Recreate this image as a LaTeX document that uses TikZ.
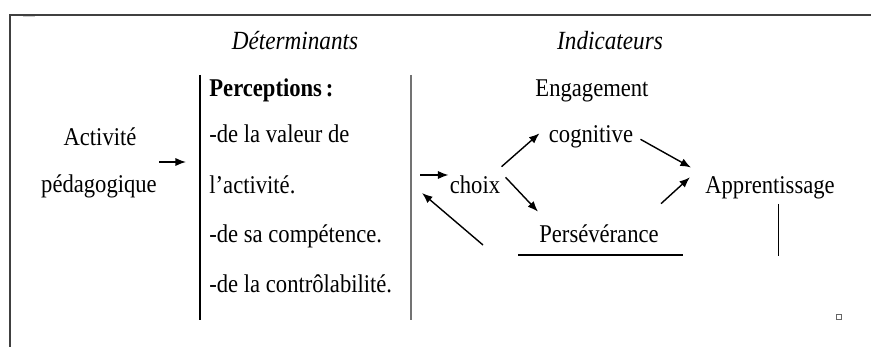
\documentclass[tikz,border=0pt]{standalone}
\usepackage{fontspec}
\setmainfont{Liberation Serif}
\usetikzlibrary{arrows.meta}

\newcommand{\taille}{\fontsize{19.3}{23}\selectfont}
\tikzset{
  texte/.style={anchor=base, inner sep=1pt, yscale=1.13, font=\taille},
  ligne/.style={texte, anchor=base west},
  titre/.style={texte, font=\fontsize{19.8}{23}\selectfont\itshape},
  fleche/.style={-{Latex[length=9pt,width=7pt]}, line width=1.2pt},
}

\begin{document}
\begin{tikzpicture}[x=0.3mm, y=-0.3mm]
  \useasboundingbox (0,0) rectangle (871,347);
  % cadre
  \draw[line width=1.5pt, black!75] (10,347) -- (10,15) -- (871,15);
  \draw[line width=1.2pt, black!20] (23,16.5) -- (35,16.5);
  \draw[line width=0.5pt, black!60] (836,314) rectangle (841,319);

  % titres
  \node[titre] (determinants) at (295,50) {Déterminants};
  \node[titre] (indicateurs) at (610,50) {Indicateurs};

  % separations
  \draw[line width=1.2pt] (200,75) -- (200,320);
  \draw[line width=1.2pt, black!55] (411,75) -- (411,320);

  % activite
  \node[texte] (activite) at (100,146) {Activité};
  \node[texte] (pedago) at (99,193) {pédagogique};
  \coordinate (act1) at (159,162);
  \coordinate (act2) at (186,162);
  \draw[fleche] (act1) -- (act2);

  % perceptions
  \node[ligne, font=\taille\bfseries] (perceptions) at (208,97) {Perceptions\,:};
  \node[ligne] (valeur) at (208,143) {-de la valeur de};
  \node[ligne] (activ) at (208,194) {l’activité.};
  \node[ligne] (competence) at (208,243) {-de sa compétence.};
  \node[ligne] (controle) at (208,293) {-de la contrôlabilité.};

  % indicateurs
  \node[texte] (engagement) at (592,97) {Engagement};
  \node[texte] (cognitive) at (591,143) {cognitive};
  \node[texte] (choix) at (475,194) {choix};
  \node[texte] (perseverance) at (599,243) {Persévérance};
  \node[texte] (apprentissage) at (770,194) {Apprentissage};

  \coordinate (entree) at (420,175);
  \draw[fleche] (entree) -- (choix.west |- entree);
  \coordinate (retour1) at (483,245);
  \coordinate (retour2) at (422,193);
  \draw[fleche] (retour1) -- (retour2);

  \draw[fleche] ([shift={(0,-8)}]choix.north east) -- ([shift={(-8,-4)}]cognitive.west);
  \draw[fleche] ([shift={(4,-8)}]choix.east) -- ([shift={(0,-12)}]perseverance.north west);
  \draw[fleche] ([shift={(6,2)}]cognitive.east) -- ([shift={(-13,-8)}]apprentissage.north west);
  \draw[fleche] ([shift={(1,-20)}]perseverance.north east) -- ([shift={(-14,-11)}]apprentissage.west);

  \draw[line width=1pt] (518,255) -- (683,255);
  \draw[line width=0.8pt] (778,204) -- (778,256);
\end{tikzpicture}
\end{document}
